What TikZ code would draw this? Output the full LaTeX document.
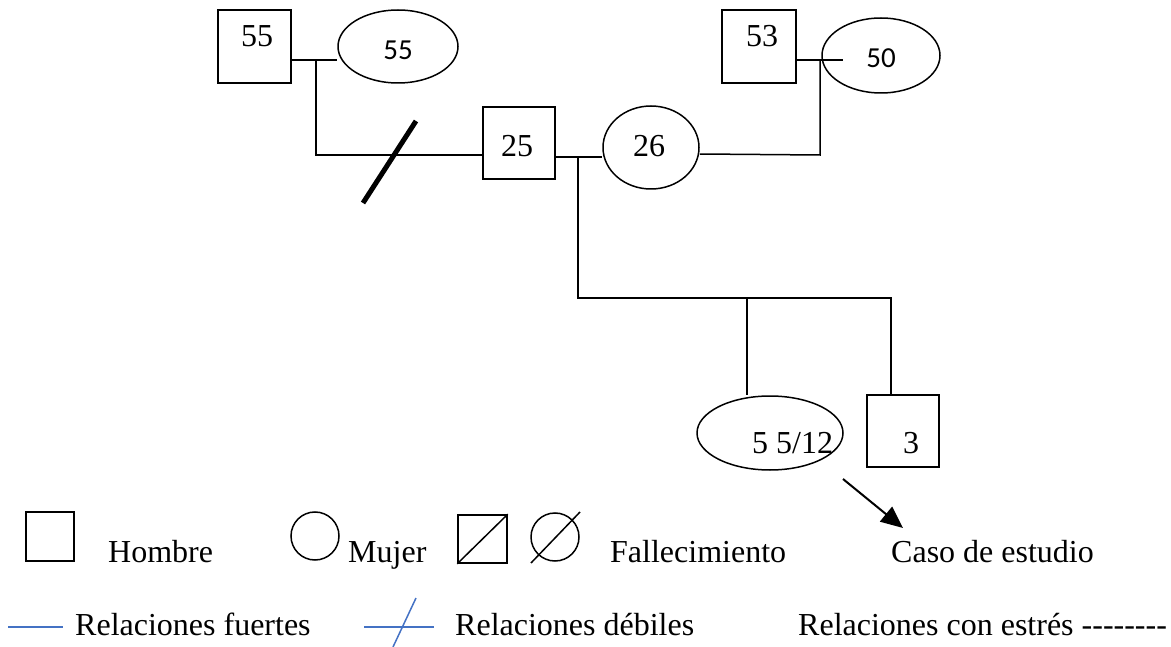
\documentclass[tikz,border=0pt]{standalone}
\usepackage{fontspec}
\setmainfont{Liberation Serif}
\newfontfamily\calib{Carlito}
\usetikzlibrary{shapes.geometric,arrows.meta}
\definecolor{relblue}{RGB}{68,114,196}
\begin{document}
\begin{tikzpicture}[x=1pt,y=-1pt,
  shp/.style={draw,line width=1.5pt,inner sep=0pt},
  sqr/.style={shp,rectangle,minimum width=#1,minimum height=#1},
  ell/.style={shp,ellipse},
  lbl/.style={inner sep=0pt,anchor=base,font=\fontsize{32}{32}\selectfont},
  slbl/.style={inner sep=0pt,anchor=base,font=\calib\fontsize{29}{29}\selectfont},
  leg/.style={inner sep=0pt,anchor=base west,font=\fontsize{32}{32}\selectfont},
  rel/.style={line width=1.5pt},
  bluel/.style={draw=relblue,line width=1.5pt}]
\useasboundingbox (0,0) rectangle (1171,647);
% shapes
\node[sqr=73pt] (s55) at (254.5,46.5) {};
\node[ell,minimum width=120pt,minimum height=73pt] (e55) at (398,46.5) {};
\node[shp,rectangle,minimum width=74pt,minimum height=73pt] (s53) at (759,46.5) {};
\node[ell,minimum width=118pt,minimum height=75pt] (e50) at (881,55.5) {};
\node[sqr=72pt] (s25) at (519,143) {};
\node[ell,minimum width=96pt,minimum height=83pt] (e26) at (651,147.5) {};
\node[ell,minimum width=146pt,minimum height=74pt] (e5) at (770,433) {};
\node[sqr=72pt] (s3) at (903,431) {};
% labels
\node[lbl] (t55a) at (257,47) {55};
\node[slbl] (t55b) at (398,60) {55};
\node[lbl] (t53) at (762,47) {53};
\node[slbl] (t50) at (881,68) {50};
\node[lbl] (t25) at (517,157) {25};
\node[lbl] (t26) at (649,157) {26};
\node[lbl,anchor=base west] (t5) at (752,453) {5 5/12};
\node[lbl] (t3) at (911,453) {3};
% coordinates
\coordinate (m1) at (316,60);
\coordinate (m1b) at (316,155);
\coordinate (m2) at (578,157);
\coordinate (c1) at (578,298);
\coordinate (c2) at (891,298);
\coordinate (c3) at (747,298);
\coordinate (m3) at (820,155);
\coordinate (m4) at (820,60);
\coordinate (m5) at (843,60);
\coordinate (w1) at (363,203);
\coordinate (w2) at (416,121);
\coordinate (a1) at (843,479);
\coordinate (a2) at (903,528);
% connectors
\draw[rel] (s55.east |- m1) -- (e55.west |- m1);
\draw[rel] (m1) -- (m1b) -- (s25.west |- m1b);
\draw[line width=5pt] (w1) -- (w2);
\draw[rel] (s25.east |- m2) -- (e26.west |- m2);
\draw[rel] (m2) -- (c1) -- (c2) -- (s3.north -| c2);
\draw[rel] (c3) -- (e5.north -| c3);
\draw[rel] (e26.east |- 0,154) -- (m3) -- (m4);
\draw[rel] (s53.east |- m4) -- (m5);
\draw[line width=2pt,-{Triangle[length=22pt,width=19pt]}] (a1) -- (a2);
% legend row 1
\node[shp,rectangle,minimum width=48pt,minimum height=49pt] (lsq) at (50,536.5) {};
\node[leg] (lh) at (108,562) {Hombre};
\node[shp,circle,minimum size=48pt] (lci) at (315,536) {};
\node[leg] (lm) at (348,562) {Mujer};
\node[shp,rectangle,minimum width=49pt,minimum height=48pt] (ldsq) at (482.5,539) {};
\draw[rel] (ldsq.south west) -- (ldsq.north east);
\node[shp,circle,minimum size=48pt] (ldci) at (555,537) {};
\coordinate (d1) at (531,563);
\coordinate (d2) at (580,512);
\draw[rel] (d1) -- (d2);
\node[leg] (lf) at (610,562) {Fallecimiento};
\node[leg] (lc) at (891,562) {Caso de estudio};
% legend row 2
\coordinate (b1) at (8,627);
\coordinate (b2) at (63,627);
\draw[bluel] (b1) -- (b2);
\node[leg] (lrf) at (75,635) {Relaciones fuertes};
\coordinate (b3) at (364,627);
\coordinate (b4) at (434,627);
\coordinate (b5) at (393,647);
\coordinate (b6) at (416,598);
\draw[bluel] (b3) -- (b4);
\draw[bluel] (b5) -- (b6);
\node[leg] (lrd) at (455,635) {Relaciones débiles};
\node[leg] (lre) at (798,635) {Relaciones con estrés -{}-{}-{}-{}-{}-{}-{}-};
\end{tikzpicture}
\end{document}
